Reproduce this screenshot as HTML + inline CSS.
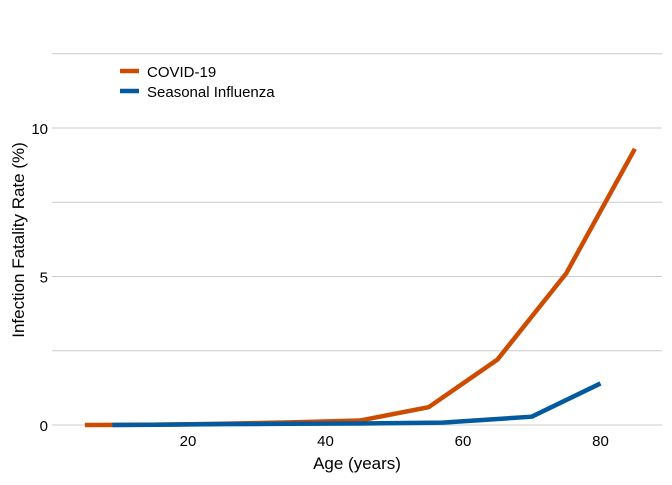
<!DOCTYPE html>
<html><head><meta charset="utf-8"><style>
body{margin:0;background:#fff;font-family:"Liberation Sans",sans-serif}
</style></head><body>
<svg id="chart" width="672" height="480" xmlns="http://www.w3.org/2000/svg"></svg>
<script>
const covidAges=[5,15,25,35,45,55,65,75,85];
const covidRates=[0,0.01,0.04,0.09,0.15,0.6,2.2,5.1,9.3];
const fluAges=[9,15,25,35,45,57,70,80];
const fluRates=[0,0.01,0.03,0.04,0.05,0.08,0.28,1.4];
const xTicks=[20,40,60,80];
const yTicks=[0,5,10];
const yGrid=[0,2.5,5,7.5,10,12.5];
const NS="http://www.w3.org/2000/svg";
const svg=document.getElementById('chart');
const x=v=>50.5+v*6.875;
const y=v=>425-v*29.7;
function mk(t,a,p){const e=document.createElementNS(NS,t);for(const k in a)e.setAttribute(k,a[k]);(p||svg).appendChild(e);return e;}
yGrid.forEach(g=>{const l=mk('line',{x1:52,x2:662,y1:y(g),y2:y(g),stroke:'#cccccc','stroke-width':1});

});
yTicks.forEach(t=>{const e=mk('text',{x:48,y:y(t)+6,'text-anchor':'end','font-size':15,fill:'#000'});e.textContent=t;

});
xTicks.forEach(t=>{const e=mk('text',{x:x(t),y:446,'text-anchor':'middle','font-size':15,fill:'#000'});e.textContent=t;

});
function series(ax,ry,col,name){const p=mk('polyline',{points:ax.map((a,i)=>x(a)+','+y(ry[i])).join(' '),fill:'none',stroke:col,'stroke-width':4.5,'stroke-linejoin':'round'});

}
series(covidAges,covidRates,'#cc4c02','covid-19-line');
series(fluAges,fluRates,'#045a9f','seasonal-influenza-line');
const xt=mk('text',{x:357,y:469,'text-anchor':'middle','font-size':17});xt.textContent='Age (years)';


const yt=mk('text',{x:24,y:240,'text-anchor':'middle','font-size':17,transform:'rotate(-90 24 240)'});yt.textContent='Infection Fatality Rate (%)';


[['COVID-19','#cc4c02',71],['Seasonal Influenza','#045a9f',91]].forEach(([n,c,yy])=>{
const g=mk('g',{});


mk('line',{x1:120,x2:139,y1:yy,y2:yy,stroke:c,'stroke-width':4.5},g);
const t=mk('text',{x:147,y:yy+6,'font-size':15},g);t.textContent=n;});
</script>
</body></html>
